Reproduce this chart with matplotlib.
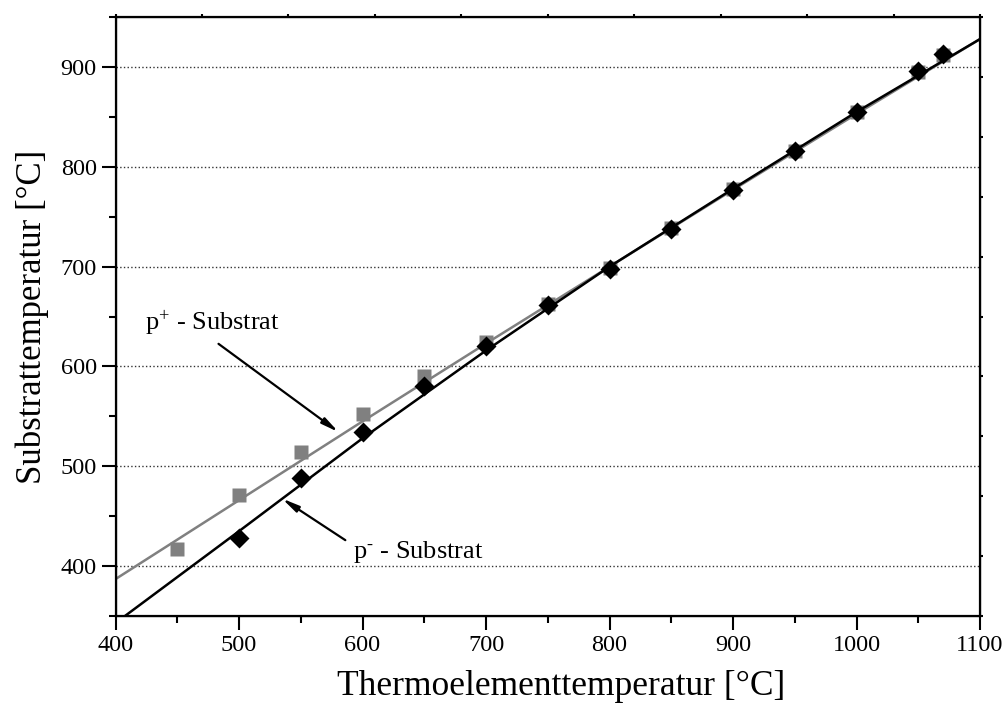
import numpy as np
import matplotlib
matplotlib.use('Agg')
import matplotlib.pyplot as plt
from matplotlib.ticker import MultipleLocator

plt.rcParams['font.family'] = ['Liberation Serif', 'DejaVu Serif']
plt.rcParams['mathtext.fontset'] = 'custom'
plt.rcParams['mathtext.rm'] = 'Liberation Serif'
plt.rcParams['mathtext.it'] = 'Liberation Serif'

# measured points
t_thermo = [500, 550, 600, 650, 700, 750, 800, 850, 900, 950, 1000, 1050, 1070]
t_pminus = [428, 488, 534, 580, 621, 662, 698, 738, 777, 816, 855, 896, 913]

t_thermo_plus = [450, 500, 550, 600, 650, 700, 750, 800, 850, 900, 950, 1000, 1050, 1070]
t_pplus = [417, 471, 514, 552, 590, 625, 663, 699, 739, 778, 816, 855, 895, 912]

# fit curves
fit_x = [400, 500, 600, 700, 800, 900, 1000, 1100]
fit_pminus = [343, 435, 528, 616, 700, 778, 855, 928]
fit_pplus = [387, 466, 545, 623, 700, 777, 853, 928]

fig = plt.figure(figsize=(10.07, 7.13), dpi=100)
ax = fig.add_axes([0.1147, 0.136, 0.8585, 0.840])

ax.plot(fit_x, fit_pplus, color='#808080', lw=1.8, zorder=2)
ax.plot(t_thermo_plus, t_pplus, 's', color='#808080', ms=9.6, mec='none', zorder=3)
ax.plot(fit_x, fit_pminus, color='black', lw=1.8, zorder=4)
ax.plot(t_thermo, t_pminus, 'D', color='black', ms=10.2, mec='none', zorder=5)

ax.set_xlim(400, 1100)
ax.set_ylim(350, 950)
ax.xaxis.set_major_locator(MultipleLocator(100))
ax.xaxis.set_minor_locator(MultipleLocator(50))
ax.yaxis.set_major_locator(MultipleLocator(100))
ax.yaxis.set_minor_locator(MultipleLocator(50))
ax.tick_params(which='major', direction='out', length=10, width=1.5, labelsize=17.5)
ax.tick_params(which='minor', direction='out', length=5, width=1.5)
for s in ax.spines.values():
    s.set_linewidth(1.6)
ax.yaxis.grid(True, which='major', ls=':', color='#333333', lw=1.0)
ax.set_axisbelow(True)

ax.set_xlabel('Thermoelementtemperatur [°C]', fontsize=25.5)
ax.xaxis.set_label_coords(0.515, -0.09)
ax.set_ylabel('Substrattemperatur [°C]', fontsize=25, labelpad=8)

# small ticks on the top and right frame
axt = ax.twiny()
axt.set_xlim(0, 10)
axt.set_xticks(range(11))
axt.tick_params(axis='x', length=2.5, width=1.5, labeltop=False)
axr = ax.twinx()
axr.set_ylim(0, 10)
axr.set_yticks(range(11))
axr.tick_params(axis='y', length=2.5, width=1.5, labelright=False)

arrow = dict(arrowstyle='-|>,head_width=0.2,head_length=1.0', color='black', lw=1.6,
             shrinkA=0, shrinkB=0)
ax.annotate('', xy=(580.6, 534.3), xytext=(483.4, 622.7), arrowprops=arrow, zorder=6)
ax.annotate('', xy=(534.8, 467.7), xytext=(586.1, 426), arrowprops=arrow, zorder=6)
ax.text(424, 643, r'p$^{+}$ - Substrat', fontsize=19, va='center', ha='left')
ax.text(592.6, 414, r'p$^{\text{-}}$ - Substrat', fontsize=19, va='center', ha='left')

fig.savefig('out.png', dpi=100)
